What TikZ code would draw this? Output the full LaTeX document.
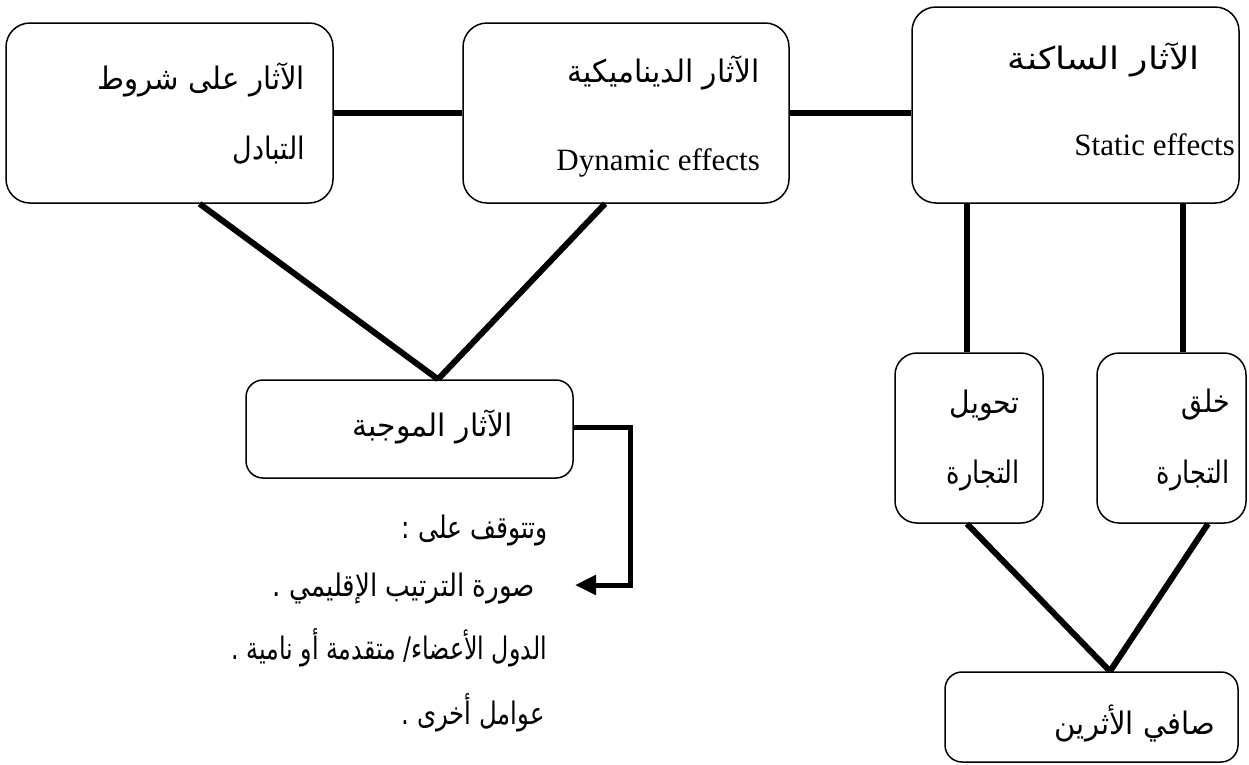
\documentclass[tikz,border=0pt]{standalone}
\usepackage{fontspec}
\usepackage{graphicx}
\setmainfont{Liberation Serif}
\newfontfamily\arabicfont[Script=Arabic]{DejaVu Sans}
\TeXXeTstate=1
\usetikzlibrary{arrows.meta}
\begin{document}
\begin{tikzpicture}[x=1pt,y=-1pt,
  box/.style={draw, line width=1.5pt, rounded corners=24pt, inner sep=0pt},
  sbox/.style={draw, line width=1.5pt, rounded corners=17pt, inner sep=0pt},
  conn/.style={line width=6pt},
  ar/.style={font=\arabicfont\fontsize{31}{36}\selectfont, inner sep=0pt},
  en/.style={font=\fontsize{31}{36}\selectfont, inner sep=0pt}]
\useasboundingbox (0,0) rectangle (1249,764);
% boxes
\node[box, minimum width=327pt, minimum height=180pt] (terms) at (169.5,113) {};
\node[box, minimum width=326pt, minimum height=180pt] (dyn) at (626,113) {};
\node[box, minimum width=327pt, minimum height=196pt] (stat) at (1075.5,105) {};
\node[sbox, minimum width=327pt, minimum height=98pt] (pos) at (409.5,429) {};
\node[box, rounded corners=22pt, minimum width=148pt, minimum height=170pt] (tahwil) at (969,438) {};
\node[box, rounded corners=22pt, minimum width=149pt, minimum height=170pt] (khalq) at (1171.5,438) {};
\node[sbox, minimum width=293pt, minimum height=90pt] (net) at (1091.5,717) {};
% texts
\node[ar, anchor=east] (t1a) at (305,80) {\resizebox{207pt}{\height}{\beginR الآثار على شروط\endR}};
\node[ar, anchor=east] (t1b) at (305,150) {\resizebox{72pt}{\height}{\beginR التبادل\endR}};
\node[ar, anchor=east] (t2a) at (760,73) {\resizebox{192pt}{\height}{\beginR الآثار الديناميكية\endR}};
\node[en, anchor=base east] (t2b) at (760,170) {Dynamic effects};
\node[ar, anchor=east] (t3a) at (1200,60) {\resizebox{192pt}{\height}{\beginR الآثار الساكنة\endR}};
\node[en, anchor=base east] (t3b) at (1235,155) {Static effects};
\node[ar, anchor=east] (tp) at (513,427) {\resizebox{160pt}{\height}{\beginR الآثار الموجبة\endR}};
\node[ar, anchor=east] (l1) at (548,530) {\resizebox{146pt}{\height}{\beginR وتتوقف على :\endR}};
\node[ar, anchor=east] (l2) at (535,588) {\resizebox{262pt}{\height}{\beginR صورة الترتيب الإقليمي .\endR}};
\node[ar, anchor=east] (l3) at (547,648) {\resizebox{315pt}{\height}{\beginR الدول الأعضاء/ متقدمة أو نامية .\endR}};
\node[ar, anchor=east] (l4) at (545,713) {\resizebox{143pt}{\height}{\beginR عوامل أخرى .\endR}};
\node[ar, anchor=east] (tt1) at (1020,405) {\resizebox{70pt}{\height}{\beginR تحويل\endR}};
\node[ar, anchor=east] (tt2) at (1020,475) {\resizebox{73pt}{\height}{\beginR التجارة\endR}};
\node[ar, anchor=east] (tk1) at (1230,405) {\resizebox{48pt}{\height}{\beginR خلق\endR}};
\node[ar, anchor=east] (tk2) at (1230,475) {\resizebox{73pt}{\height}{\beginR التجارة\endR}};
\node[ar, anchor=east] (tn) at (1215,723) {\resizebox{160pt}{\height}{\beginR صافي الأثرين\endR}};
% connectors
\draw[conn] (terms.east) -- (dyn.west);
\draw[conn] (dyn.east) -- (stat.west |- dyn.east);
\draw[conn] ([xshift=30pt]terms.south) -- ([xshift=28.5pt]pos.north);
\draw[conn] ([xshift=-21pt]dyn.south) -- ([xshift=28.5pt]pos.north);
\draw[conn] ([xshift=-2pt]tahwil.north |- stat.south) -- ([xshift=-2pt]tahwil.north);
\draw[conn] ([xshift=11.5pt]khalq.north |- stat.south) -- ([xshift=11.5pt]khalq.north);
\draw[conn] ([xshift=-2pt]tahwil.south) -- ([xshift=18.5pt]net.north);
\draw[conn] ([xshift=36.5pt]khalq.south) -- ([xshift=18.5pt]net.north);
\coordinate (e1) at (630,427);
\coordinate (e2) at (630,585);
\draw[line width=5pt, -{Triangle[length=21pt,width=19pt]}] (pos.east |- e1) -- (e1) -- (e2) -- (575,585) coordinate (e3);
\end{tikzpicture}
\end{document}
